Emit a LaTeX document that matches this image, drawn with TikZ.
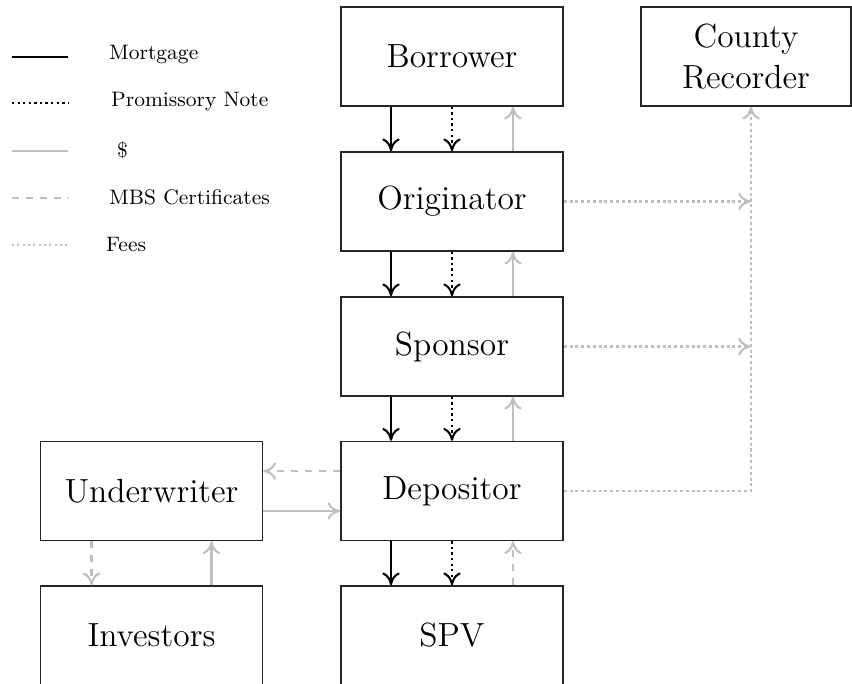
\documentclass[tikz,border=0pt]{standalone}
\usepackage{xcolor}
\usepackage{tikz}
\usetikzlibrary{arrows}
\usetikzlibrary{arrows.meta}
\usetikzlibrary{calc}
\tikzstyle{box} = [draw=black!85, line width=0.6pt, rectangle, minimum width=95.5pt, minimum height=42.6pt, font=\Large, align=center]
\tikzstyle{mortgage} = [line width=0.9pt, black]
\tikzstyle{note} = [line width=0.9pt, black, dash pattern=on 1pt off 1.4pt]
\tikzstyle{cash} = [line width=0.9pt, lightgray]
\tikzstyle{mbs} = [line width=0.9pt, lightgray, dashed]
\tikzstyle{fees} = [line width=0.9pt, lightgray, dash pattern=on 1.3pt off 1.2pt]
\tikzstyle{legend} = [anchor=west, font=\small]

\begin{document}
\begin{tikzpicture}[x=0.43pt, y=-0.43pt, >={To[length=5.5pt, width=7.5pt]}]
	\useasboundingbox (0,0) rectangle (852,684);

	% legend
	\draw[mortgage] (12,57) -- (68,57) ;
	\draw[note] (12,103) -- (68,103) ;
	\draw[cash] (12,151) -- (68,151) ;
	\draw[mbs] (12,198) -- (68,198) ;
	\draw[lightgray, line width=0.5pt, dash pattern=on 0.8pt off 1.5pt] (12,245) -- (68,245) ;
	\node[legend] (lm) at (101,54) {Mortgage} ;
	\node[legend] (ln) at (103,101) {Promissory Note} ;
	\node[legend] (lc) at (109,150) {\$} ;
	\node[legend] (lb) at (101,197) {MBS Certificates} ;
	\node[legend] (lf) at (98,244) {Fees} ;

	% boxes
	\node[box] (B) at (452,56.5) {Borrower} ;
	\node[box, minimum width=90.3pt] (C) at (746,56.5) {County\\Recorder} ;
	\node[box] (O) at (452,201.5) {Originator} ;
	\node[box] (S) at (452,346.5) {Sponsor} ;
	\node[box] (D) at (452,491) {Depositor} ;
	\node[box] (P) at (452,635.5) {SPV} ;
	\node[box] (U) at (151.5,491) {Underwriter} ;
	\node[box] (I) at (151.5,635.5) {Investors} ;

	\coordinate (fee) at (751,0) ;

	% main chain
	\foreach \a/\b in {B/O, O/S, S/D, D/P} {
		\draw[mortgage, ->] ($(\a.south)+(-61,0)$) -- ($(\b.north)+(-61,0)$) ;
		\draw[note, ->] (\a.south) -- (\b.north) ;
	}
	\foreach \a/\b in {O/B, S/O, D/S} {
		\draw[cash, ->] ($(\a.north)+(61,0)$) -- ($(\b.south)+(61,0)$) ;
	}
	\draw[mbs, ->] ($(P.north)+(61,0)$) -- ($(D.south)+(61,0)$) ;

	% underwriter and investors
	\draw[mbs, ->] ($(D.west)+(0,-20)$) -- ($(U.east)+(0,-20)$) ;
	\draw[cash, ->] ($(U.east)+(0,20)$) -- ($(D.west)+(0,20)$) ;
	\draw[mbs, ->] ($(U.south)+(-60,0)$) -- ($(I.north)+(-60,0)$) ;
	\draw[cash, ->] ($(I.north)+(60,0)$) -- ($(U.south)+(60,0)$) ;

	% fees
	\draw[fees, ->] (O.east) -- (O.east -| fee) ;
	\draw[fees, ->] (S.east) -- (S.east -| fee) ;
	\draw[fees, ->] (D.east) -| (fee |- C.south) ;
\end{tikzpicture}
\end{document}
